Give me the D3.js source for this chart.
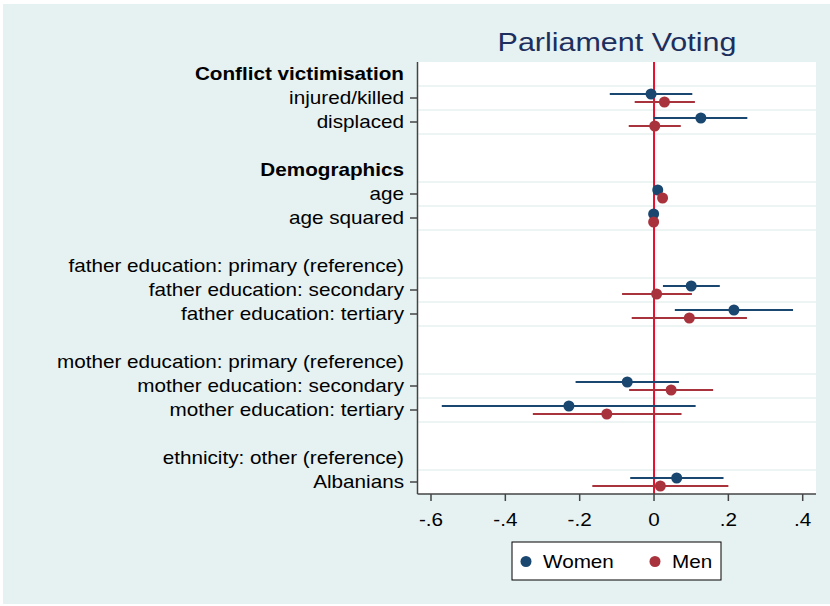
<!DOCTYPE html>
<html>
<head>
<meta charset="utf-8">
<script src="https://cdn.jsdelivr.net/npm/d3@7"></script>
<style>
  body { margin: 0; background: #fff; }
  text { font-family: "Liberation Sans", Arial, sans-serif; }
</style>
</head>
<body>
<svg id="chart" width="830" height="606"></svg>
<script>
// rows, top to bottom ("" = empty spacer row)
const rows = [
  "Conflict victimisation", "injured/killed", "displaced", "",
  "Demographics", "age", "age squared", "",
  "father education: primary (reference)", "father education: secondary", "father education: tertiary", "",
  "mother education: primary (reference)", "mother education: secondary", "mother education: tertiary", "",
  "ethnicity: other (reference)", "Albanians"
];
const headers = ["Conflict victimisation", "Demographics"];
const coefRows = ["injured/killed", "displaced", "age", "age squared",
  "father education: secondary", "father education: tertiary",
  "mother education: secondary", "mother education: tertiary", "Albanians"];

const womenEst = [-0.008, 0.126, 0.010, -0.001, 0.100, 0.215, -0.072, -0.229, 0.061];
const womenLo  = [-0.119, 0.000, 0.004, -0.003, 0.024, 0.056, -0.211, -0.571, -0.064];
const womenHi  = [ 0.103, 0.251, 0.016,  0.001, 0.177, 0.374,  0.067,  0.112,  0.187];
const menEst   = [ 0.028, 0.002, 0.023, -0.001, 0.007, 0.095,  0.046, -0.127,  0.017];
const menLo    = [-0.052, -0.068, 0.017, -0.003, -0.086, -0.060, -0.067, -0.326, -0.166];
const menHi    = [ 0.110, 0.072, 0.029,  0.001, 0.102, 0.250,  0.159,  0.074,  0.200];

const xTicks = [-0.6, -0.4, -0.2, 0, 0.2, 0.4];
const xTickLabels = ["-.6", "-.4", "-.2", "0", ".2", ".4"];

const series = [
  { name: "Women", color: "#1a476f", est: womenEst, lo: womenLo, hi: womenHi, off: -4 },
  { name: "Men", color: "#a8333d", est: menEst, lo: menLo, hi: menHi, off: 4 }
];

const svg = d3.select("#chart");
const plot = { left: 417.5, right: 816, top: 62, bottom: 494 };
const stretch = 1.15; // text in the original is a bit wider than the font

function label(g, tx, ty, str, size) {
  return g.append("text")
    .attr("transform", `translate(${tx},${ty}) scale(${stretch},1)`)
    .attr("font-size", size)
    .attr("fill", "#000")
    .text(str);
}

// background
svg.append("rect").attr("x", 3).attr("y", 4).attr("width", 827).attr("height", 600)
  .attr("fill", "#e6f1f1");
svg.append("rect").attr("x", plot.left).attr("y", plot.top)
  .attr("width", plot.right - plot.left).attr("height", plot.bottom - plot.top)
  .attr("fill", "#fff");

const x = d3.scaleLinear()
  .domain([-0.6, 0.4])
  .range([431, 802.7]);

const y = d3.scaleBand()
  .domain(d3.range(rows.length))
  .range([plot.top, plot.bottom]);
const yc = i => y(i) + y.bandwidth() / 2;

// grid lines around each coefficient row
const gridYs = new Set();
coefRows.forEach(r => {
  const i = rows.indexOf(r);
  gridYs.add(y(i));
  gridYs.add(y(i) + y.bandwidth());
});
svg.append("g").selectAll("line")
  .data([...gridYs].filter(v => v > plot.top + 1 && v < plot.bottom - 1))
  .enter().append("line")
  .attr("x1", plot.left + 1).attr("x2", plot.right)
  .attr("y1", d => d).attr("y2", d => d)
  .attr("stroke", "#e6f1f1").attr("stroke-width", 1.5);

// zero line
svg.append("line")
  .attr("x1", x(0)).attr("x2", x(0))
  .attr("y1", plot.top).attr("y2", plot.bottom)
  .attr("stroke", "#e8102e").attr("stroke-width", 2);

// y axis
svg.append("line").attr("x1", plot.left).attr("x2", plot.left)
  .attr("y1", plot.top).attr("y2", plot.bottom)
  .attr("stroke", "#444").attr("stroke-width", 1.5);

const ylab = svg.append("g");
rows.forEach((r, i) => {
  if (!r) return;
  label(ylab, 404, yc(i), r, 18)
    .attr("dy", "0.35em")
    .attr("text-anchor", "end")
    .attr("font-weight", headers.includes(r) ? "bold" : "normal");
  if (coefRows.includes(r)) {
    ylab.append("line").attr("x1", 410).attr("x2", plot.left)
      .attr("y1", yc(i)).attr("y2", yc(i))
      .attr("stroke", "#444").attr("stroke-width", 1.5);
  }
});

// x axis
svg.append("line").attr("x1", plot.left).attr("x2", plot.right)
  .attr("y1", plot.bottom).attr("y2", plot.bottom)
  .attr("stroke", "#444").attr("stroke-width", 1.5);
const xg = svg.append("g");
xTicks.forEach((t, i) => {
  xg.append("line").attr("x1", x(t)).attr("x2", x(t))
    .attr("y1", plot.bottom).attr("y2", plot.bottom + 7)
    .attr("stroke", "#444").attr("stroke-width", 1.5);
  label(xg, x(t), plot.bottom + 32, xTickLabels[i], 18)
    .attr("text-anchor", "middle");
});

// coefficients
series.forEach(s => {
  const g = svg.append("g");
  coefRows.forEach((r, k) => {
    const cy = yc(rows.indexOf(r)) + s.off;
    g.append("line")
      .attr("x1", x(s.lo[k])).attr("x2", x(s.hi[k]))
      .attr("y1", cy).attr("y2", cy)
      .attr("stroke", s.color).attr("stroke-width", 2);
    g.append("circle")
      .attr("cx", x(s.est[k])).attr("cy", cy).attr("r", 5.5)
      .attr("fill", s.color);
  });
});

// title
label(svg, 617, 50.5, "Parliament Voting", 26.5)
  .attr("text-anchor", "middle")
  .attr("fill", "#1c2f5e");

// legend
const leg = svg.append("g");
leg.append("rect").attr("x", 512).attr("y", 542).attr("width", 209).attr("height", 38)
  .attr("fill", "#fff").attr("stroke", "#000").attr("stroke-width", 1);
const legX = [526, 655];
series.forEach((s, i) => {
  leg.append("circle").attr("cx", legX[i]).attr("cy", 561.5).attr("r", 5.5).attr("fill", s.color);
  label(leg, legX[i] + 17, 561.5, s.name, 18).attr("dy", "0.35em");
});
</script>
</body>
</html>
